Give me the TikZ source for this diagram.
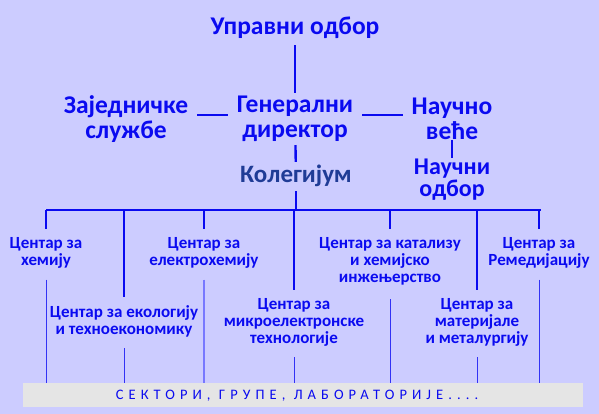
\documentclass[tikz,border=0pt]{standalone}
\usepackage{fontspec}
\setmainfont{Carlito}
\newfontfamily\spacedfont[LetterSpace=35]{Carlito}
\usetikzlibrary{positioning, calc}
\usepackage{xcolor}
\definecolor{ink}     {HTML}{0A0AF0}
\definecolor{inkdark} {HTML}{1F3C96}
\definecolor{inkthin} {HTML}{3232F5}
\definecolor{inkpale} {HTML}{7878FF}
\definecolor{lavender}{HTML}{CCCCFF}
\definecolor{barfill} {HTML}{E5E5E5}
\tikzset{
  head/.style    = {font=\bfseries\fontsize{25.5}{25}\selectfont, text=ink,
                    align=center, inner sep=1pt},
  board/.style   = {head, font=\bfseries\fontsize{24}{22}\selectfont},
  college/.style = {head, font=\bfseries\fontsize{25}{25}\selectfont, text=inkdark},
  centre/.style  = {font=\bfseries\fontsize{17}{17}\selectfont, text=ink,
                    align=center, inner sep=1pt},
  bus/.style     = {ink, line width=2.4pt},
  link/.style    = {bus, shorten <=2pt, shorten >=2pt},
  hlink/.style   = {bus, shorten <=8pt, shorten >=8pt},
  drop/.style    = {inkthin, line width=1pt, shorten <=10pt},
  bar/.style     = {fill=barfill, minimum width=560pt, minimum height=24pt,
                    inner sep=0pt},
  bartext/.style = {text=ink, font=\spacedfont\fontsize{14.5}{15}\selectfont},
}

\begin{document}
\begin{tikzpicture}[x=1pt, y=-1pt]

  \fill[lavender] (0,0) rectangle (599,414);
  \useasboundingbox (0,0) rectangle (599,414);

  % --- management ---
  \node[head] (upr)  at (295,28)  {Управни одбор};
  \node[head] (zaj)  at (126,119) {Заједничке\\службе};
  \node[head] (gen)  at (295,119) {Генерални\\директор};
  \node[head] (vece) at (452,119) {Научно\\веће};
  \node[college] (kol) at (296,176) {Колегијум};
  \node[board] (nodb)  at (452,180) {Научни\\одбор};

  % --- centres, first row ---
  \node[centre] (hem)   at (46,253)  {Центар за\\хемију};
  \node[centre] (elhem) at (204,253) {Центар за\\електрохемију};
  \node[centre] (kat)   at (390,261) {Центар за катализу\\и хемијско\\инжењерство};
  \node[centre] (rem)   at (539,253) {Центар за\\Ремедијацију};

  % --- centres, second row ---
  \node[centre] (eco)   at (124,321) {Центар за екологију\\и техноекономику};
  \node[centre] (mikro) at (294,322) {Центар за\\микроелектронске\\технологије};
  \node[centre] (mat)   at (477,322) {Центар за\\материјале\\и металургију};

  % --- bottom bar ---
  \node[bar] (sek) at (303,395) {};
  \node[bartext] (sektxt) at (297,396) {СЕКТОРИ, ГРУПЕ, ЛАБОРАТОРИЈЕ....};

  % --- connectors ---
  \draw[bus, shorten <=5pt, shorten >=2pt] (upr) -- (gen);
  \draw[hlink] ([yshift=4pt]zaj.east) -- ([yshift=4pt]gen.west);
  \draw[hlink] ([yshift=4pt]gen.east) -- ([yshift=4pt]vece.west);
  \draw[link] (gen) -- (kol);
  \draw[bus, shorten <=-1pt, shorten >=0pt] (vece) -- (nodb);

  % bus
  \coordinate (busL) at (46,210);
  \coordinate (busR) at (541,210);
  \draw[bus] (busL) -- (busR);
  \draw[bus, shorten <=3pt] (kol.south) -- (kol.south |- busL);
  \foreach \c in {hem, elhem, kat, rem, eco, mikro, mat}
    \draw[bus, shorten >=7pt] (\c.north |- busL) -- (\c.north);

  % down to the bar
  \foreach \c in {hem, eco, mikro, mat, rem}
    \draw[drop] (\c.south) -- (\c.south |- sek.north);
  \draw[drop, shorten <=13pt] (kat.south) -- (kat.south |- sek.north);
  \draw[drop, inkpale, line width=2pt] (elhem.south) -- (elhem.south |- sek.north);

\end{tikzpicture}
\end{document}
